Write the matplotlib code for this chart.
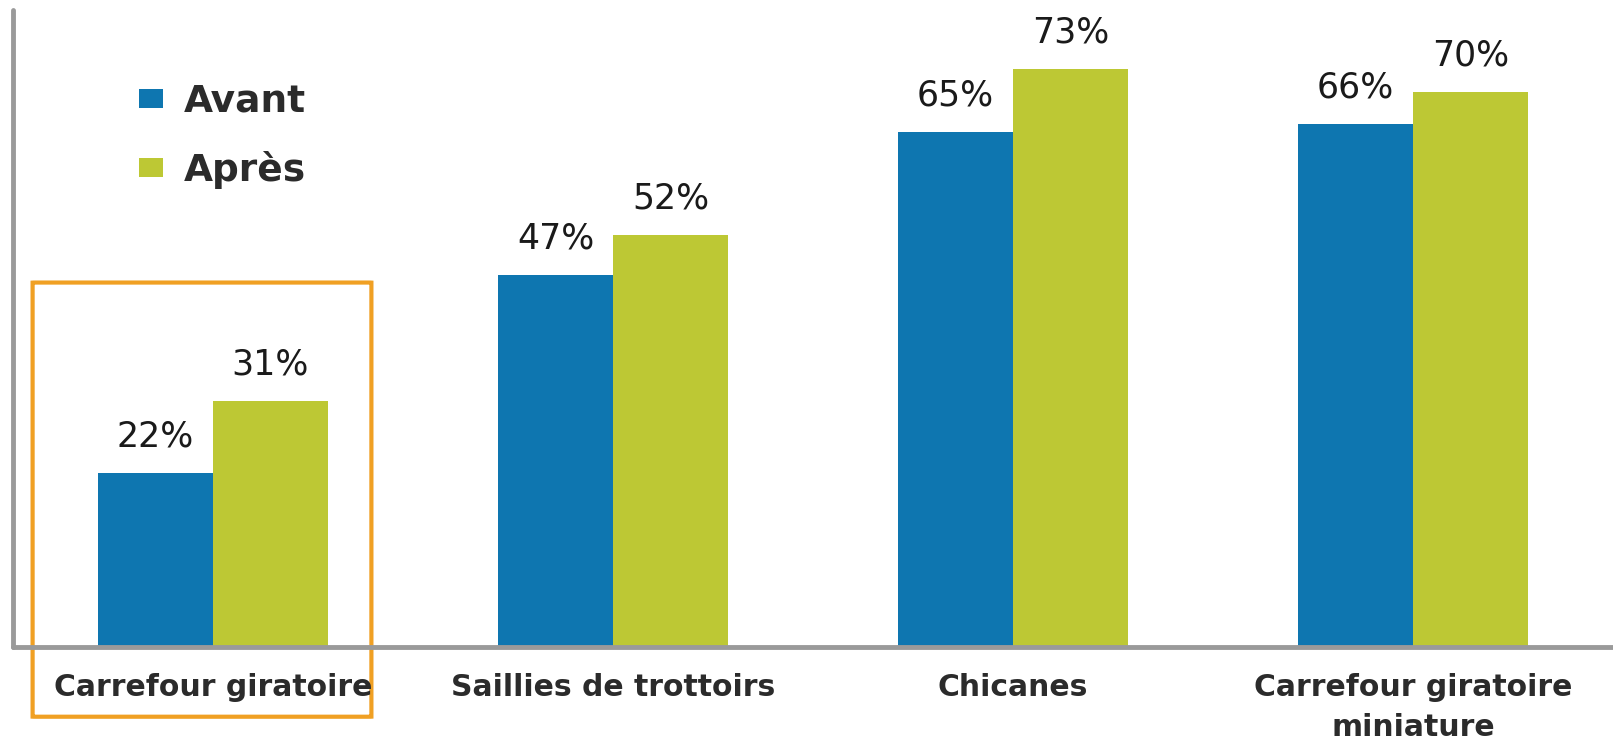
import matplotlib
matplotlib.use("Agg")
import matplotlib.pyplot as plt
from matplotlib.patches import FancyBboxPatch
import numpy as np

# data
categories = ["Carrefour giratoire", "Saillies de trottoirs", "Chicanes",
              "Carrefour giratoire\nminiature"]
avant = [22, 47, 65, 66]
apres = [31, 52, 73, 70]
series_names = ["Avant", "Après"]

blue = "#0e76b0"
green = "#bdc834"
txt = "#2b2b2b"

fig = plt.figure(figsize=(16.13, 7.40), dpi=100)
ax = fig.add_axes([13 / 1613, 93 / 740, 1 - 13 / 1613, 637 / 740])

x = np.arange(len(categories))
w = 0.287
b1 = ax.bar(x - w / 2, avant, w, color=blue, label=series_names[0])
b2 = ax.bar(x + w / 2, apres, w, color=green, label=series_names[1])

for bars, vals in ((b1, avant), (b2, apres)):
    for r, v in zip(bars, vals):
        ax.annotate(f"{v}%", (r.get_x() + r.get_width() / 2, r.get_height()),
                    xytext=(0, 14), textcoords="offset points",
                    ha="center", va="bottom", fontsize=25, color="#1a1a1a",
                    family="DejaVu Sans")

ax.set_xlim(-0.5, 3.5)
ax.set_ylim(0, 80.4)
ax.set_xticks(x)
ax.set_xticklabels(categories, fontsize=21.5, fontweight="bold", color=txt,
                   family="DejaVu Sans", linespacing=1.45)
ax.tick_params(axis="x", length=0, pad=19)
ax.set_yticks([])
for s in ("top", "right"):
    ax.spines[s].set_visible(False)
for s in ("left", "bottom"):
    ax.spines[s].set_color("#9a9a9a")
    ax.spines[s].set_linewidth(3.5)
    ax.spines[s].set_capstyle("round")

# orange frame around the first category
frame = FancyBboxPatch((-0.451, -8.8), 0.847, 54.8,
                       boxstyle="round,pad=0,rounding_size=0.01",
                       fill=False, edgecolor="#f0a023", linewidth=3,
                       clip_on=False, transform=ax.transData)
ax.add_patch(frame)

leg = ax.legend(loc="upper left", bbox_to_anchor=(139 / 1613, 1 - 84 / 740),
                bbox_transform=fig.transFigure, frameon=False,
                prop={"family": "DejaVu Sans", "weight": "bold", "size": 27},
                handlelength=0.65, handleheight=0.42, handletextpad=0.55,
                labelspacing=0.82, borderpad=0, borderaxespad=0)
for t in leg.get_texts():
    t.set_color(txt)

fig.savefig("out.png", dpi=100)
